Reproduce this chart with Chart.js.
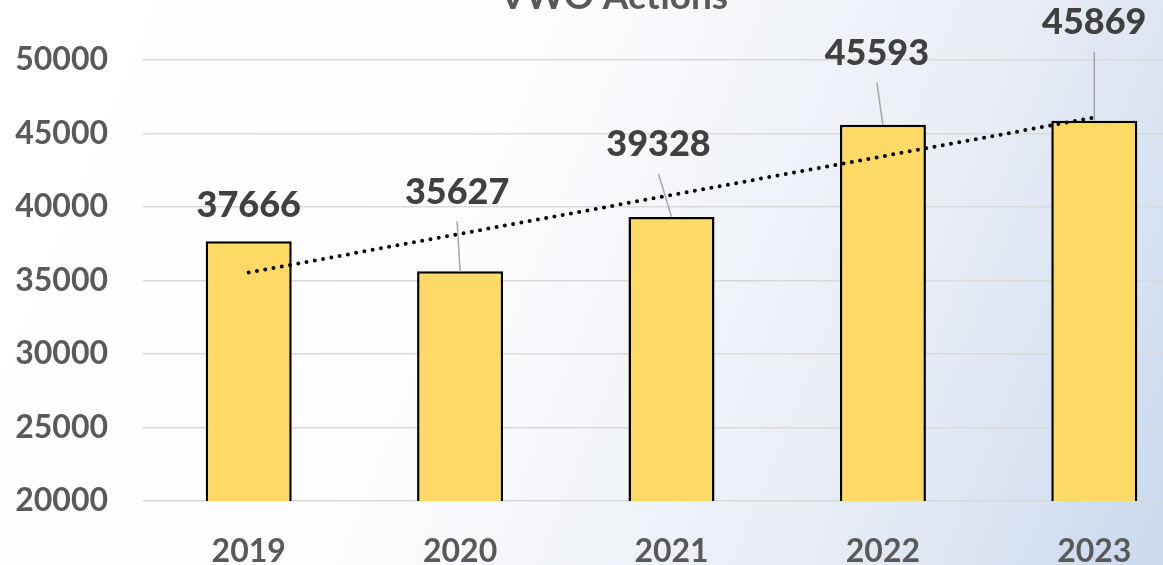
<!DOCTYPE html>
<html>
<head>
<meta charset="utf-8">
<script src="https://cdn.jsdelivr.net/npm/chart.js@4"></script>
<style>
  html, body { margin: 0; padding: 0; }
  body {
    width: 1163px; height: 565px; overflow: hidden; position: relative;
    background: linear-gradient(112deg, #ffffff 0%, #fdfdfe 40%, #e7ecf4 75%, #cad9ef 100%);
  }
  #wrap { position: absolute; left: 0; top: -37px; width: 1228px; height: 606px; }
</style>
</head>
<body>
<div id="wrap"><canvas id="vwoChart"></canvas></div>
<script>
const chartTitle = 'VWO Actions';
const years = ['2019', '2020', '2021', '2022', '2023'];
const actions = [37666, 35627, 39328, 45593, 45869];
// dotted trend line, ends
const trend = [35540, null, null, null, 46090];
const yTicks = [20000, 25000, 30000, 35000, 40000, 45000, 50000];

const font = 'Lato, "Open Sans", sans-serif';

// title is mostly cropped off the top, so draw it by hand
const topTitle = {
    id: 'topTitle',
    afterDraw(chart, args, opts) {
        const ctx = chart.ctx;
        ctx.save();
        ctx.font = 'bold 37px ' + font;
        ctx.fillStyle = '#595959';
        ctx.textAlign = 'center';
        ctx.textBaseline = 'alphabetic';
        ctx.fillText(chartTitle, opts.x, opts.y);
        ctx.restore();
    }
};

// labels sit above the bars, some pulled away with a grey leader line
const barLabels = {
    id: 'barLabels',
    afterDatasetsDraw(chart, args, opts) {
        const ctx = chart.ctx;
        const meta = chart.getDatasetMeta(1);
        ctx.save();
        ctx.font = '900 36px ' + font;
        ctx.textAlign = 'center';
        ctx.textBaseline = 'middle';
        meta.data.forEach(function(bar, i){
            const off = opts.offsets[i];
            const lx = bar.x + off[0];
            const ly = bar.y + off[1];
            if (Math.abs(off[1]) > 50) {
                ctx.strokeStyle = '#a6a6a6';
                ctx.lineWidth = 1.5;
                ctx.beginPath();
                ctx.moveTo(lx, ly + 29);
                ctx.lineTo(bar.x, bar.y);
                ctx.stroke();
            }
            ctx.fillStyle = '#404040';
            ctx.fillText(String(actions[i]), lx, ly);
        });
        ctx.restore();
    }
};

const ctx = document.getElementById('vwoChart');
const chart = new Chart(ctx, {
    type: 'bar',
    data: {
        labels: years,
        datasets: [{
            type: 'line',
            label: 'Trend',
            data: trend,
            spanGaps: true,
            borderColor: '#000000',
            borderWidth: 4,
            borderDash: [0, 8.4],
            borderCapStyle: 'round',
            pointRadius: 0,
            fill: false,
            order: 0
        }, {
            label: chartTitle,
            data: actions,
            backgroundColor: '#ffd966',
            borderColor: '#000000',
            borderWidth: 2.5,
            borderSkipped: 'bottom',
            barPercentage: 0.407,
            categoryPercentage: 1,
            order: 1
        }]
    },
    options: {
        responsive: true,
        maintainAspectRatio: false,
        animation: false,
        devicePixelRatio: 1,
        layout: { padding: { left: 0, right: 28, top: 97, bottom: 0 } },
        plugins: {
            legend: { display: false },
            tooltip: { enabled: false },
            title: { display: false },
            topTitle: { x: 614, y: 46 },
            barLabels: {
                offsets: [[0, -36], [-3, -79], [-13, -72], [-6, -71], [0, -98]]
            }
        },
        scales: {
            x: {
                grid: { display: false },
                border: { display: false },
                ticks: {
                    color: '#595959',
                    font: { family: font, size: 32, weight: 'bold' },
                    padding: 23,
                    maxRotation: 0
                },
                afterFit(scale) { scale.height = 68; }
            },
            y: {
                min: yTicks[0],
                max: yTicks[yTicks.length - 1],
                afterBuildTicks(scale) { scale.ticks = yTicks.map(v => ({ value: v })); },
                grid: { color: '#d9d9d9', lineWidth: 1.5, drawTicks: false },
                border: { display: false },
                ticks: {
                    color: '#595959',
                    font: { family: font, size: 32, weight: 'bold' },
                    padding: 35,
                    callback: v => String(v)
                },
                afterFit(scale) { scale.width = 143; }
            }
        }
    },
    plugins: [barLabels, topTitle]
});
</script>
</body>
</html>
